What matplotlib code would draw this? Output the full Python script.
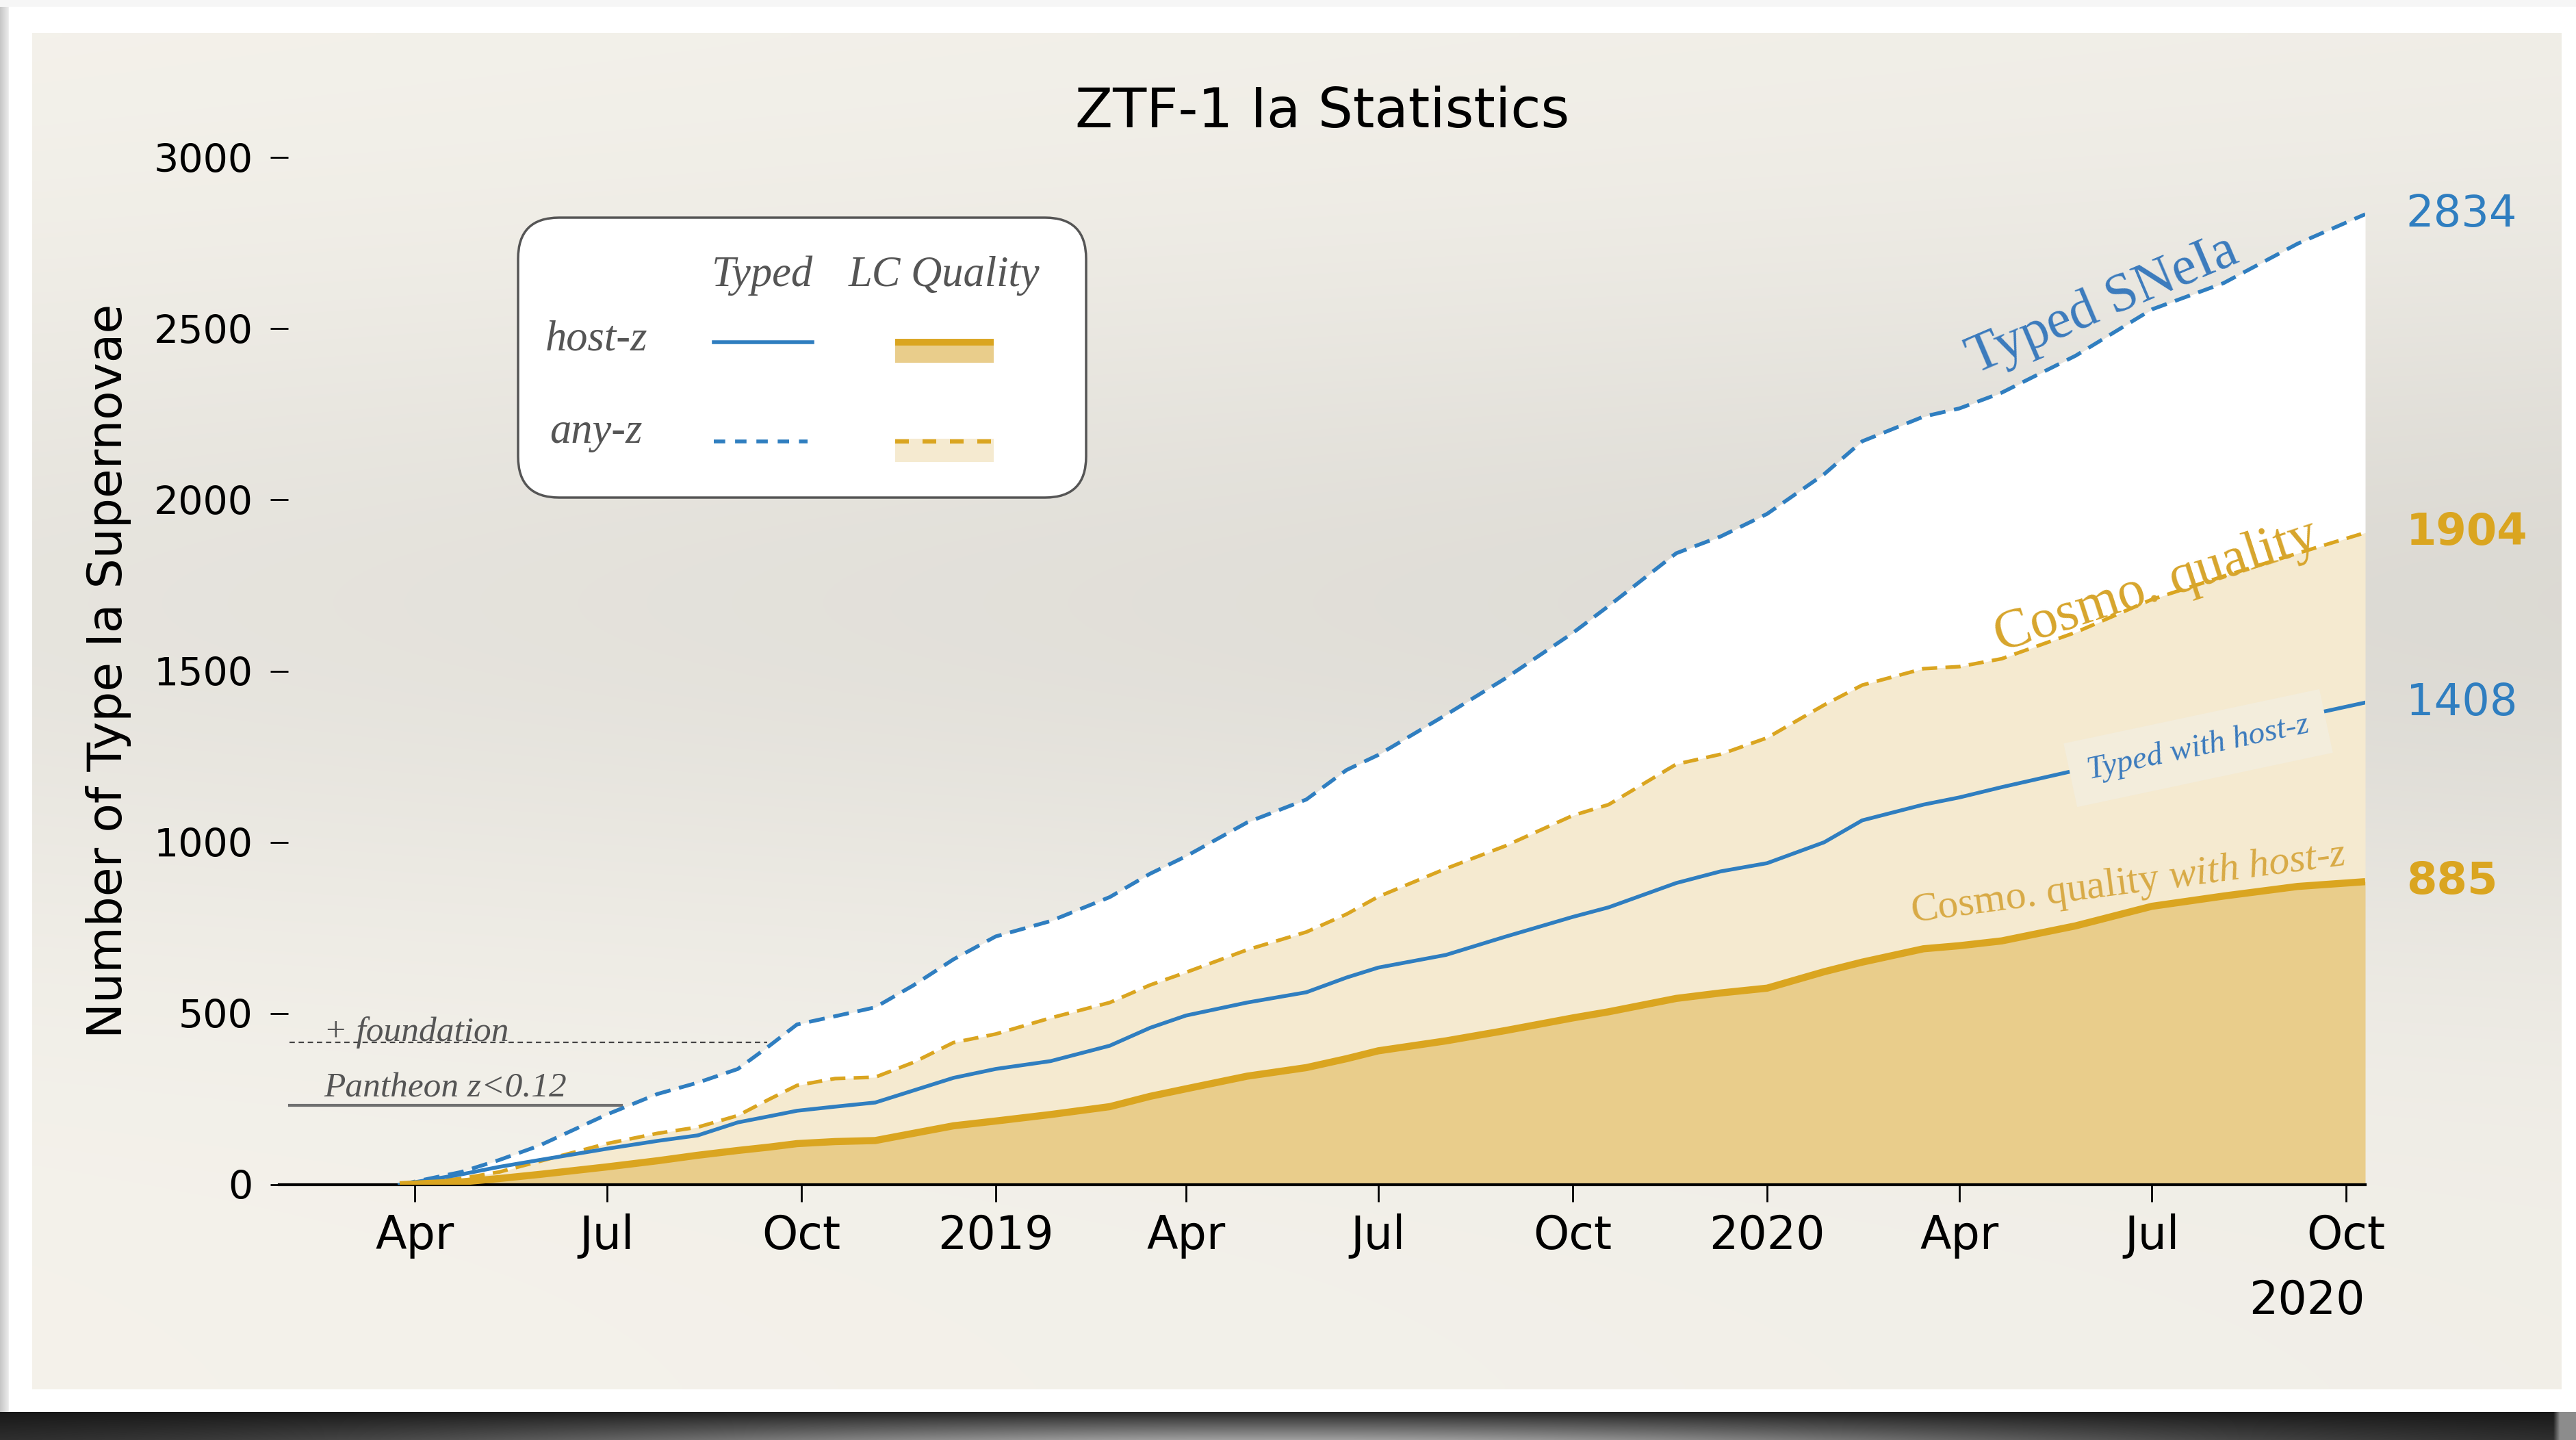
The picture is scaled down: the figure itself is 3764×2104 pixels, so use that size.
"""
ZTF-1 Ia statistics: cumulative number of typed SNe Ia over time.

Rebuilds the slide figure (paper-like card, stacked fills, inline labels).
Output: out.png
"""
import numpy as np
import pandas as pd
import matplotlib

matplotlib.use("Agg")
import matplotlib.pyplot as plt
import matplotlib.dates as mdates
from matplotlib.patches import Rectangle, FancyBboxPatch
from matplotlib.lines import Line2D

W, H = 3764, 2104

# Data
DATES = [
    "2018-03-25", "2018-04-23", "2018-05-11", "2018-05-30", "2018-07-01",
    "2018-07-25", "2018-08-13", "2018-09-01", "2018-09-16", "2018-09-29",
    "2018-10-17", "2018-11-05", "2018-11-23", "2018-12-12", "2019-01-01",
    "2019-01-27", "2019-02-24", "2019-03-15", "2019-04-01", "2019-04-30",
    "2019-05-28", "2019-06-16", "2019-07-01", "2019-08-02", "2019-08-30",
    "2019-10-01", "2019-10-18", "2019-11-19", "2019-12-10", "2020-01-01",
    "2020-01-28", "2020-02-15", "2020-03-15", "2020-04-01", "2020-04-21",
    "2020-05-26", "2020-07-01", "2020-08-04", "2020-09-08", "2020-10-10",
]
TYPED_ANYZ = [
    0, 37, 72, 114, 205, 265, 298, 338, 406, 468,
    492, 518, 582, 658, 725, 770, 840, 908, 959, 1058,
    1125, 1211, 1255, 1372, 1478, 1611, 1690, 1844, 1893, 1959,
    2075, 2171, 2243, 2267, 2313, 2421, 2556, 2633, 2748, 2834,
]
COSMO_ANYZ = [
    0, 18, 37, 68, 120, 150, 168, 202, 250, 290,
    310, 314, 357, 415, 440, 487, 532, 583, 620, 686,
    738, 790, 841, 923, 989, 1078, 1110, 1228, 1257, 1305,
    1401, 1459, 1507, 1513, 1536, 1613, 1709, 1777, 1844, 1904,
]
TYPED_HOSTZ = [
    0, 30, 52, 72, 105, 128, 144, 182, 200, 216,
    228, 240, 275, 312, 338, 361, 406, 458, 494, 532,
    562, 605, 634, 671, 724, 782, 810, 881, 915, 939,
    1000, 1064, 1110, 1131, 1161, 1210, 1265, 1318, 1365, 1408,
]
COSMO_HOSTZ = [
    0, 8, 18, 30, 52, 70, 86, 100, 110, 120,
    126, 129, 150, 172, 186, 205, 228, 258, 280, 317,
    342, 368, 391, 420, 450, 487, 505, 544, 560, 574,
    622, 650, 689, 698, 712, 756, 813, 843, 871, 885,
]

# reference samples
PANTHEON_LOWZ = 232
PLUS_FOUNDATION = 415
REF_START = "2018-02-01"
PANTHEON_END = "2018-07-08"
FOUNDATION_END = "2018-09-15"

X_START, X_END = "2018-01-27", "2020-10-10"
Y_TICKS = [0, 500, 1000, 1500, 2000, 2500, 3000]

# Style
BLUE = "#2f7ec0"
GOLD = "#daa520"
TAN = "#e9cd8b"
CREAM = "#f5ead0"
GREY_TXT = "#555555"
SERIF = "Liberation Serif"

plt.rcParams["mathtext.fontset"] = "custom"
plt.rcParams["mathtext.rm"] = SERIF
plt.rcParams["mathtext.it"] = SERIF + ":italic"


def draw_backdrop(bg):
    """Slide card, paper gradient and the dark reflective floor."""
    bg.add_patch(Rectangle((0, 0), W, H, color="#f6f6f6", zorder=0))

    shade = 0.78 + 0.16 * np.linspace(0, 1, 32)[None, :].repeat(2, 0)
    bg.imshow(np.dstack([shade] * 3), extent=(0, 14, 2063, 10),
              aspect="auto", interpolation="bilinear", zorder=1)
    bg.add_patch(Rectangle((13, 10), W - 13, 2053, color="white", zorder=1))

    yy, xx = np.mgrid[0:1:200j, 0:1:360j]
    b = (0.958 - 0.072 * np.exp(-((yy - 0.42) / 0.25) ** 2) * (0.75 + 0.4 * xx)
         - 0.012 * xx)
    paper = np.dstack([b, b * 0.99, b * 0.962]).clip(0, 1)
    bg.imshow(paper, extent=(47, 3743, 2030, 48), aspect="auto",
              interpolation="bilinear", zorder=2)

    u = np.linspace(0, 1, 400)[None, :]
    t = np.linspace(0, 1, 30)[:, None]
    glow = np.exp(-((u - 0.5) / 0.32) ** 2)
    floor = 0.09 + 0.48 * glow * (0.15 + 0.85 * t) + 0.05 * t
    floor = np.where(u > 0.994, 0.55, floor)
    bg.imshow(np.dstack([floor] * 3).clip(0, 1), extent=(0, W, H, 2063),
              aspect="auto", interpolation="bilinear", zorder=2)

    bg.set_xlim(0, W)
    bg.set_ylim(H, 0)


def draw_legend(ov):
    """Hand-built 2x2 legend box (pixel coordinates of the overlay)."""
    ov.add_patch(FancyBboxPatch((757, 318), 830, 409,
                                boxstyle="round,pad=0,rounding_size=60",
                                facecolor="white", edgecolor=GREY_TXT,
                                linewidth=2.5, zorder=1))
    txt = dict(family=SERIF, style="italic", fontsize=45, color=GREY_TXT,
               ha="center", va="center", zorder=3)
    ov.text(1114, 403, "Typed", **txt)
    ov.text(1380, 403, "LC Quality", **txt)
    ov.text(871, 497, "host-z", **txt)
    ov.text(871, 632, "any-z", **txt)

    ov.add_line(Line2D([1043, 1187], [500, 500], color=BLUE, lw=4, zorder=3))
    ov.add_patch(Rectangle((1308, 495), 144, 35, color=TAN, lw=0, zorder=2))
    ov.add_line(Line2D([1308, 1452], [500, 500], color=GOLD, lw=7,
                       solid_capstyle="butt", zorder=3))

    ov.add_line(Line2D([1043, 1180], [645, 645], color=BLUE, lw=4,
                       ls=(0, (3, 2.6)), zorder=3))
    ov.add_patch(Rectangle((1308, 641), 144, 34, color=CREAM, lw=0, zorder=2))
    ov.add_line(Line2D([1308, 1452], [645, 645], color=GOLD, lw=4.5,
                       ls=(0, (3.2, 3.2)), zorder=3))


def main():
    fig = plt.figure(figsize=(W / 100, H / 100), dpi=100)

    bg = fig.add_axes([0, 0, 1, 1], zorder=-5)
    bg.axis("off")
    draw_backdrop(bg)

    left, right, top, bottom = 408, 3456, 230, 1731
    ax = fig.add_axes([left / W, 1 - bottom / H, (right - left) / W,
                       (bottom - top) / H])
    ax.set_facecolor("none")

    d = pd.to_datetime(DATES)
    ax.fill_between(d, 0, COSMO_HOSTZ, color=TAN, lw=0, zorder=1)
    ax.fill_between(d, COSMO_HOSTZ, COSMO_ANYZ, color=CREAM, lw=0, zorder=1)
    ax.fill_between(d, COSMO_ANYZ, TYPED_ANYZ, color="white", lw=0, zorder=1)

    dash = (0, (4.2, 2.3))
    ax.plot(d, TYPED_ANYZ, color=BLUE, lw=4, ls=dash, zorder=3)
    ax.plot(d, COSMO_ANYZ, color=GOLD, lw=3.8, ls=dash, zorder=3)
    ax.plot(d, TYPED_HOSTZ, color=BLUE, lw=4, zorder=3)
    ax.plot(d, COSMO_HOSTZ, color=GOLD, lw=7.5, solid_capstyle="butt", zorder=3)

    # Pantheon / Foundation reference levels
    ref_start = pd.Timestamp(REF_START)
    ax.plot([ref_start, pd.Timestamp(PANTHEON_END)], [PANTHEON_LOWZ] * 2,
            color="#707070", lw=3, zorder=2)
    ax.plot([ref_start, pd.Timestamp(FOUNDATION_END)], [PLUS_FOUNDATION] * 2,
            color="#444444", lw=1.6, ls=(0, (3.5, 2.5)), zorder=2)
    ref_txt = dict(family=SERIF, style="italic", fontsize=37, color=GREY_TXT,
                   va="baseline", ha="left", zorder=2)
    label_x = pd.Timestamp("2018-02-17")
    ax.text(label_x, PANTHEON_LOWZ + 24, "Pantheon z<0.12", **ref_txt)
    ax.text(label_x, PLUS_FOUNDATION + 4, "+ foundation", **ref_txt)

    # inline curve labels
    ax.text(pd.Timestamp("2020-06-08"), 2568, "Typed SNeIa", family=SERIF,
            fontsize=58, color="#3b7bbd", rotation=23, rotation_mode="anchor",
            ha="center", va="center", zorder=4)
    ax.text(pd.Timestamp("2020-07-03"), 1747, "Cosmo. quality", family=SERIF,
            fontsize=58, color="#d7a52c", rotation=18, rotation_mode="anchor",
            ha="center", va="center", zorder=4)
    ax.text(pd.Timestamp("2020-07-23"), 1275, "Typed with host-z", family=SERIF,
            style="italic", fontsize=34, color="#3b7bbd", rotation=12,
            rotation_mode="anchor", ha="center", va="center", zorder=4,
            bbox=dict(boxstyle="square,pad=0.55", facecolor="#f3eddc",
                      edgecolor="none"))
    ax.text(pd.Timestamp("2020-06-20"), 878,
            r"Cosmo. quality $\mathit{with\ host}$-$\mathit{z}$", family=SERIF,
            fontsize=43, color="#d8aa45", rotation=7.5, rotation_mode="anchor",
            ha="center", va="center", zorder=4)

    # final counts at the right end
    for series, color, weight in [
        (TYPED_ANYZ, BLUE, "normal"),
        (COSMO_ANYZ, GOLD, "bold"),
        (TYPED_HOSTZ, BLUE, "normal"),
        (COSMO_HOSTZ, GOLD, "bold"),
    ]:
        ax.annotate(str(series[-1]), xy=(d[-1], series[-1]), xytext=(43, 0),
                    textcoords="offset points", ha="left", va="center",
                    fontsize=46, color=color, fontweight=weight,
                    annotation_clip=False)

    ax.set_xlim(pd.Timestamp(X_START), pd.Timestamp(X_END))
    ax.set_ylim(0, 3000)
    ax.set_yticks(Y_TICKS)

    locator = mdates.MonthLocator(bymonth=[1, 4, 7, 10])
    ax.xaxis.set_major_locator(locator)
    ax.xaxis.set_major_formatter(mdates.ConciseDateFormatter(locator))
    # year offset under the last tick (newer matplotlib hides it here)
    ax.text(1.0, -0.1133, str(pd.Timestamp(X_END).year), transform=ax.transAxes,
            ha="right", va="center", fontsize=48)

    for side in ("left", "top", "right"):
        ax.spines[side].set_visible(False)
    ax.spines["bottom"].set_linewidth(3)
    ax.tick_params(axis="x", direction="out", length=18, width=2, pad=12,
                   labelsize=48)
    ax.tick_params(axis="y", direction="inout", length=19, width=2, pad=18,
                   labelsize=41)

    ax.set_ylabel("Number of Type Ia Supernovae", fontsize=50)
    ax.yaxis.set_label_coords(-0.0709, 0.5)
    ax.set_title("ZTF-1 Ia Statistics", fontsize=58, pad=32)

    ov = fig.add_axes([0, 0, 1, 1], zorder=10)
    ov.axis("off")
    ov.set_xlim(0, W)
    ov.set_ylim(H, 0)
    draw_legend(ov)

    fig.savefig("out.png", dpi=100)
    plt.close(fig)


if __name__ == "__main__":
    main()
